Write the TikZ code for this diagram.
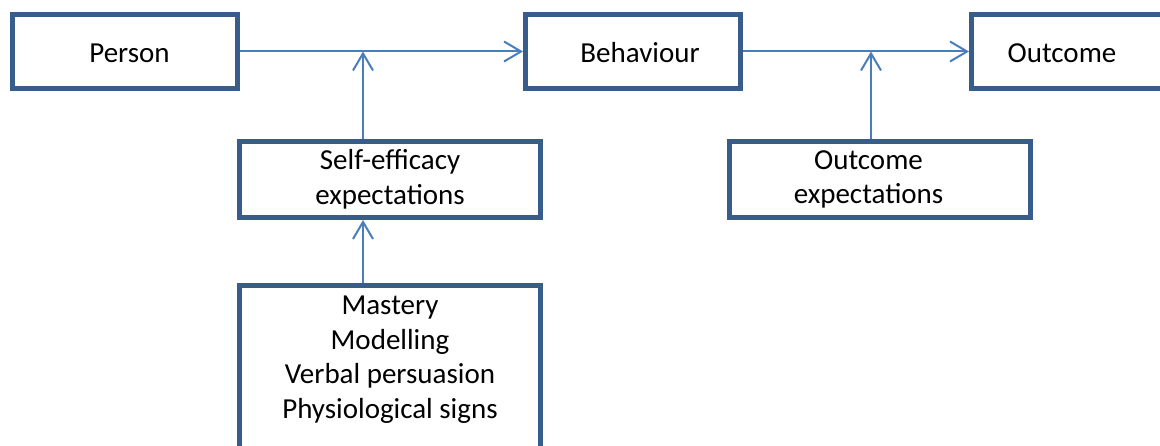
\documentclass[tikz,border=0pt]{standalone}
\usepackage{fontspec}
\setmainfont{Carlito}
\usetikzlibrary{arrows.meta}
\definecolor{boxblue}{HTML}{385D8A}
\definecolor{linkblue}{HTML}{4A7EBB}
\begin{document}
\begin{tikzpicture}[x=1pt,y=-1pt,
  box/.style={draw=boxblue, line width=5pt, fill=white, rectangle,
    inner sep=0pt, align=center,
    font=\fontsize{29pt}{34.5pt}\selectfont},
  oneline/.style={text height=23pt, text depth=0pt},
  link/.style={draw=linkblue, line width=2pt,
    -{Straight Barb[length=17pt,width=20pt]}}]
\useasboundingbox (0,0) rectangle (1160,446);
\clip (0,0) rectangle (1160,446);

% top row
\node[box, oneline, minimum width=225pt, minimum height=74pt]
  (person) at (125,51.5) {\hspace*{9pt}Person};
\node[box, oneline, minimum width=215pt, minimum height=74pt]
  (behav) at (633,51.5) {\hspace*{14pt}Behaviour};
\node[box, oneline, minimum width=225pt, minimum height=74pt]
  (outcome) at (1084,51.5) {Outcome\hspace*{44pt}};

% expectations
\node[box, minimum width=301pt, minimum height=76pt]
  (selfeff) at (390,179.5) {Self-efficacy\\expectations};
\node[box, minimum width=301pt, minimum height=76pt]
  (outexp) at (880,179.5) {Outcome\hspace*{23pt}\\expectations\hspace*{23pt}};

% sources of self-efficacy
\node[box, anchor=north, minimum width=301pt, inner ysep=10.8pt]
  (sources) at (390,283)
  {Mastery\\Modelling\\Verbal persuasion\\Physiological signs\\\strut};

% connectors
\coordinate (seTop) at ([xshift=-27pt]selfeff.north);
\coordinate (srcTop) at ([xshift=-27pt]sources.north);
\coordinate (oeTop) at ([xshift=-9pt]outexp.north);

\draw[link] (person.east) -- (behav.west);
\draw[link] (behav.east) -- (outcome.west);
\draw[link] (seTop) -- (seTop |- person.east);
\draw[link] (srcTop) -- (srcTop |- selfeff.south);
\draw[link] (oeTop) -- (oeTop |- behav.east);
\end{tikzpicture}
\end{document}
